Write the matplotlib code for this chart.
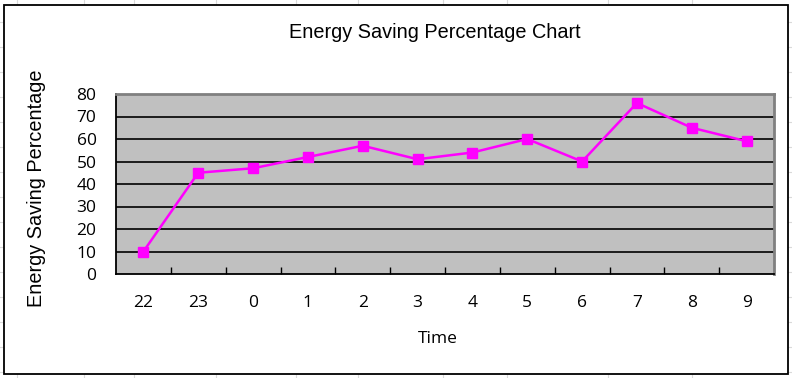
import matplotlib
matplotlib.use("Agg")
import matplotlib.pyplot as plt
from matplotlib.patches import Rectangle
from matplotlib.lines import Line2D
import numpy as np

categories = ["22", "23", "0", "1", "2", "3", "4", "5", "6", "7", "8", "9"]
values = [10, 45, 47, 52, 57, 51, 54, 60, 50, 76, 65, 59]
y_ticks = [0, 10, 20, 30, 40, 50, 60, 70, 80]

W, H = 792, 378
fig = plt.figure(figsize=(W / 100, H / 100), dpi=100)
fig.patch.set_facecolor("white")

# faint spreadsheet grid behind chart
for x in [17, 84, 134, 216, 296, 358, 443, 507, 608, 692]:
    fig.add_artist(Line2D([x / W, x / W], [0, 1], color="#DADADA", lw=0.8, zorder=0))
for y in range(22, 378, 25):
    fig.add_artist(Line2D([0, 1], [1 - y / H, 1 - y / H], color="#DADADA", lw=0.8, zorder=0))

# chart area with border
fig.add_artist(Rectangle((4 / W, 1 - 374 / H), (788 - 4) / W, (374 - 5) / H,
                         facecolor="white", edgecolor="black", lw=1.3, zorder=1))

ax = fig.add_axes([116 / W, 1 - 274 / H, (774 - 116) / W, (274 - 94) / H], zorder=2)
ax.set_facecolor("#C0C0C0")
x = np.arange(len(categories))
ax.plot(x, values, color="#FF00FF", lw=1.8, marker="s", markersize=6.5,
        markerfacecolor="#FF00FF", markeredgecolor="#FF00FF", zorder=3, clip_on=False)

ax.set_xlim(-0.5, len(categories) - 0.5)
ax.set_ylim(0, 80)
ax.set_yticks(y_ticks)
ax.set_yticklabels([str(t) for t in y_ticks], fontfamily="Open Sans", fontsize=12.5)
ax.set_xticks(x)
ax.set_xticklabels(categories, fontfamily="Open Sans", fontsize=12.5)
ax.set_xticks(np.arange(0.5, len(categories) - 0.5, 1), minor=True)
ax.tick_params(axis="x", which="major", length=0, pad=15)
ax.tick_params(axis="x", which="minor", length=5, direction="in", width=1, color="black")
ax.tick_params(axis="y", which="major", length=0, pad=14)

for t in y_ticks[1:-1]:
    ax.axhline(t, color="black", lw=1.2, zorder=1)

ax.spines["top"].set_color("#808080")
ax.spines["right"].set_color("#808080")
ax.spines["top"].set_linewidth(2)
ax.spines["right"].set_linewidth(2)
ax.spines["left"].set_color("black")
ax.spines["bottom"].set_color("black")
ax.spines["left"].set_linewidth(1.3)
ax.spines["bottom"].set_linewidth(1.3)

fig.text(435 / W, 1 - 33 / H, "Energy Saving Percentage Chart", ha="center", va="center",
         fontfamily="Liberation Sans", fontsize=14.3, zorder=3)
fig.text(37 / W, 1 - 188 / H, "Energy Saving Percentage", ha="center", va="center",
         rotation=90, fontfamily="Liberation Sans", fontsize=14.3, zorder=3)
fig.text(438 / W, 1 - 339 / H, "Time", ha="center", va="center",
         fontfamily="Open Sans", fontsize=12.5, zorder=3)

fig.savefig("out.png", dpi=100)
